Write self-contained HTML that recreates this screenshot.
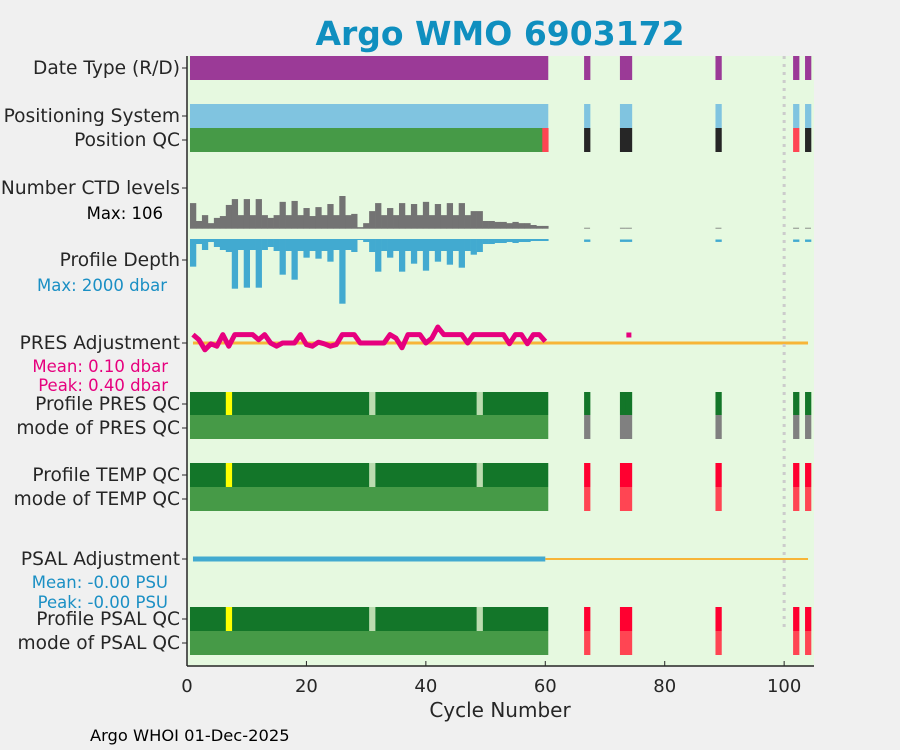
<!DOCTYPE html>
<html><head><meta charset="utf-8"><style>
body{margin:0;background:#f0f0f0;}
svg{display:block;font-family:"DejaVu Sans","Liberation Sans",sans-serif;}
</style></head><body>
<svg id="chart" width="900" height="750">
<rect x="0" y="0" width="900" height="750" fill="#f0f0f0"/>
<rect id="plotbg" x="187" y="56" width="627" height="610" fill="#e6f9e0"/>
<text x="500" y="45" text-anchor="middle" font-size="33" font-weight="bold" fill="#0f8fbf">Argo WMO 6903172</text>
<g id="marks"></g>
<g id="axes"></g>
<text x="500" y="717" text-anchor="middle" font-size="20" fill="#262626">Cycle Number</text>
<text x="90" y="741" font-size="16.3" fill="#000">Argo WHOI 01-Dec-2025</text>
</svg>
<script>
const cyclesMain = Array.from({length:60},(_,i)=>i+1);
const cyclesExtra = [67,73,74,89,102,104];
const ctdLevels = [83,25,44,18,35,41,77,96,44,96,44,96,44,35,44,87,44,90,44,67,41,70,44,80,44,106,44,48,5,18,57,83,44,67,44,83,44,80,44,87,44,80,44,83,44,83,44,57,57,25,25,22,22,18,22,18,18,12,9,9];
const ctdExtra = [3,3,3,3,3,3];
const profDepth = [855,155,340,93,247,340,402,1536,340,1505,340,1505,340,247,371,1103,371,1258,371,577,371,608,371,701,340,2000,340,402,31,93,402,1010,371,577,371,1010,371,763,371,979,371,701,371,794,371,887,371,485,402,155,155,124,124,93,124,93,93,62,62,62];
const depthExtra = [90,90,90,90,90,90];
const presAdj = [0.21,0.08,-0.17,-0.02,-0.08,0.21,-0.08,0.21,0.21,0.21,0.21,0.08,0.21,0,-0.08,0,0,0,0.21,-0.04,-0.08,0.02,-0.02,-0.08,-0.04,0.21,0.21,0.21,0,0,0,0,0,0.21,0.12,-0.12,0.21,0.21,0.21,0,0.12,0.40,0.21,0.21,0.21,0.21,0,0.21,0.21,0.21,0.21,0.21,0.21,-0.02,0.21,0.21,-0.02,0.21,0.21,0.04];
const presAdjExtra = [[74,0.2]];
const psalAdj = cyclesMain.map(()=>0);
const posQCRed = [60,102];
const qcLightCycles = [31,49];
const qcYellowCycles = [7];
const xTicks = [0,20,40,60,80,100];
const yLabels = [
 ["Date Type (R/D)",68],["Positioning System",116],["Position QC",140],["Number CTD levels",188],
 ["Profile Depth",260],["PRES Adjustment",343],["Profile PRES QC",404],["mode of PRES QC",428],
 ["Profile TEMP QC",475],["mode of TEMP QC",499],["PSAL Adjustment",559],["Profile PSAL QC",619],["mode of PSAL QC",643]];

const NS="http://www.w3.org/2000/svg";
const marks=document.getElementById('marks'), axes=document.getElementById('axes');
const X0=187,X1=814,XMIN=0,XMAX=105;
function x(c){return X0+(c-XMIN)*(X1-X0)/(XMAX-XMIN);}
const ctdBase=228.7, ctdScale=32.7/106;
function yCtd(v){return ctdBase-v*ctdScale;}
const depBase=239, depScale=64.7/2000;
function yDep(v){return depBase+v*depScale;}
const presZero=343, presScale=40;
function yPres(v){return presZero-v*presScale;}
function yPsal(v){return 559-v*40;}
function el(tag,attrs,parent){const e=document.createElementNS(NS,tag);for(const k in attrs)e.setAttribute(k,attrs[k]);(parent||marks).appendChild(e);return e;}
function bar(c,y0,y1,fill,name){
  const r=el('rect',{x:x(c-0.5),y:Math.min(y0,y1),width:x(c+0.5)-x(c-0.5)+0.3,height:Math.max(Math.abs(y1-y0),0.8),fill:fill});
  
  
}
function span(c0,c1,y0,y1,fill,name){
  const r=el('rect',{x:x(c0),y:y0,width:x(c1)-x(c0),height:y1-y0,fill:fill});
  
  
}
span(0.5,60.5,56,80,'#9b3a97','date-type-bar');
span(0.5,60.5,104,128,'#80c4e0','positioning-system-bar');
span(0.5,60.5,128,152,'#469a47','position-qc-bar');
[[392,415],[463,487],[607,631]].forEach(r=>span(0.5,60.5,r[0],r[1],'#137629','profile-qc-bar'));
[[415,439],[487,511],[631,655]].forEach(r=>span(0.5,60.5,r[0],r[1],'#469a47','mode-qc-bar'));
[[392,415],[463,487],[607,631]].forEach(r=>{
  qcYellowCycles.forEach(c=>bar(c,r[0],r[1],'#ffff00','qc-yellow-cycle'));
  qcLightCycles.forEach(c=>bar(c,r[0],r[1],'#bcdcb0','qc-light-cycle'));
});
posQCRed.forEach(c=>bar(c,128,152,'#ff4553','position-qc-red'));
cyclesExtra.forEach(c=>{
  bar(c,56,80,'#9b3a97','date-type-bar');
  bar(c,104,128,'#80c4e0','positioning-system-bar');
  if(posQCRed.indexOf(c)<0) bar(c,128,152,'#262626','position-qc-bar');
  bar(c,392,415,'#137629','pres-qc-bar'); bar(c,415,439,'#808080','pres-qc-mode-bar');
  bar(c,463,487,'#ff0030','temp-qc-bar'); bar(c,487,511,'#ff4553','temp-qc-mode-bar');
  bar(c,607,631,'#ff0030','psal-qc-bar'); bar(c,631,655,'#ff4553','psal-qc-mode-bar');
});
cyclesMain.forEach((c,i)=>{bar(c,ctdBase,yCtd(ctdLevels[i]),'#737373','ctd-levels-bar');bar(c,depBase,yDep(profDepth[i]),'#42aad0','profile-depth-bar');});
cyclesExtra.forEach((c,i)=>{
  const r=el('rect',{x:x(c-0.5),y:yCtd(ctdExtra[i]),width:x(c+0.5)-x(c-0.5),height:0.8,fill:'#737373'});
  
  
  bar(c,depBase+0.5,yDep(depthExtra[i]),'#42aad0','profile-depth-bar');
});
let l=el('line',{x1:x(1),x2:x(104),y1:yPres(0),y2:yPres(0),stroke:'#f7b538','stroke-width':3});


l=el('line',{x1:x(60),x2:x(104),y1:yPsal(0),y2:yPsal(0),stroke:'#f7b538','stroke-width':2});


let p=el('polyline',{points:cyclesMain.map((c,i)=>x(c)+','+yPres(presAdj[i])).join(' '),fill:'none',stroke:'#e6007e','stroke-width':5,'stroke-linejoin':'round'});


presAdjExtra.forEach(d=>{const r=el('rect',{x:x(d[0])-2.5,y:yPres(d[1])-2.5,width:5,height:5,fill:'#e6007e'});
  
  });
p=el('polyline',{points:cyclesMain.map((c,i)=>x(c)+','+yPsal(psalAdj[i])).join(' '),fill:'none',stroke:'#42aad0','stroke-width':5});


l=el('line',{x1:x(100),x2:x(100),y1:56,y2:630,stroke:'#cccccc','stroke-width':3,'stroke-dasharray':'3,5'});


l=el('line',{x1:X0,x2:X0,y1:56,y2:666,stroke:'#262626','stroke-width':1.5},axes);


l=el('line',{x1:X0,x2:X1,y1:666,y2:666,stroke:'#262626','stroke-width':1.5},axes);


xTicks.forEach(t=>{
  const tk=el('line',{x1:x(t),x2:x(t),y1:666,y2:661,stroke:'#262626','stroke-width':1},axes);
  
  
  const tx=el('text',{x:x(t),y:692,'text-anchor':'middle','font-size':18,fill:'#262626'},axes);
  tx.textContent=t;
  
  
});
yLabels.forEach(d=>{
  const tk=el('line',{x1:X0-5,x2:X0,y1:d[1],y2:d[1],stroke:'#262626','stroke-width':1},axes);
  
  
  const tx=el('text',{x:180,y:d[1]+6,'text-anchor':'end','font-size':18.6,fill:'#262626'},axes);
  tx.textContent=d[0];
  
  
});
const subs=[["Max: 106",163,219,'#000'],["Max: 2000 dbar",167,291,'#1a8fc4'],["Mean: 0.10 dbar",168,372,'#e6007e'],["Peak: 0.40 dbar",168,391,'#e6007e'],["Mean: -0.00 PSU",168,588,'#1a8fc4'],["Peak: -0.00 PSU",168,608,'#1a8fc4']];
subs.forEach(s=>{
  const tx=el('text',{x:s[1],y:s[2],'text-anchor':'end','font-size':16.5,fill:s[3]},axes);
  tx.textContent=s[0];
  
  
});
</script>
</body></html>
